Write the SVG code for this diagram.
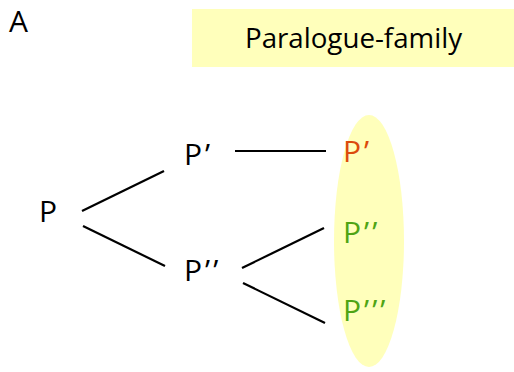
<svg xmlns="http://www.w3.org/2000/svg" width="514" height="372" viewBox="0 0 514 372">
<style>
text{font-family:"Open Sans","Noto Sans",sans-serif;font-size:30px;fill:#000}
.pr{letter-spacing:3px}
.red{fill:#DC4A0C}
.green{fill:#4FA414}
.conn line{stroke:#000;stroke-width:2.2;stroke-linecap:butt}
</style>
<rect width="514" height="372" fill="#fff"/>
<text x="9" y="32">A</text>
<g id="family-label">
<rect x="192" y="9" width="322" height="58" fill="#FFFFBB"/>
<text x="245" y="48" textLength="217" lengthAdjust="spacingAndGlyphs" style="font-size:27px">Paralogue-family</text>
</g>
<g id="family-ellipse">
<ellipse cx="369" cy="241" rx="35" ry="126" fill="#FFFFBB"/>
</g>
<g class="conn" id="connectors">
<line x1="82" y1="211" x2="164" y2="171"/>
<line x1="83" y1="226" x2="165" y2="266"/>
<line x1="235" y1="151" x2="326" y2="151"/>
<line x1="242" y1="268" x2="324" y2="228"/>
<line x1="243" y1="283" x2="325" y2="323"/>
</g>
<g id="node-P"><text x="39" y="222">P</text></g>
<g id="node-P1"><text class="pr" x="184" y="165">P’</text></g>
<g id="node-P2"><text class="pr" x="184" y="281">P’’</text></g>
<g id="node-P1b"><text class="pr red" x="343" y="162">P’</text></g>
<g id="node-P2b"><text class="pr green" x="343" y="243">P’’</text></g>
<g id="node-P3b"><text class="pr green" x="343" y="321">P’’’</text></g>
</svg>
